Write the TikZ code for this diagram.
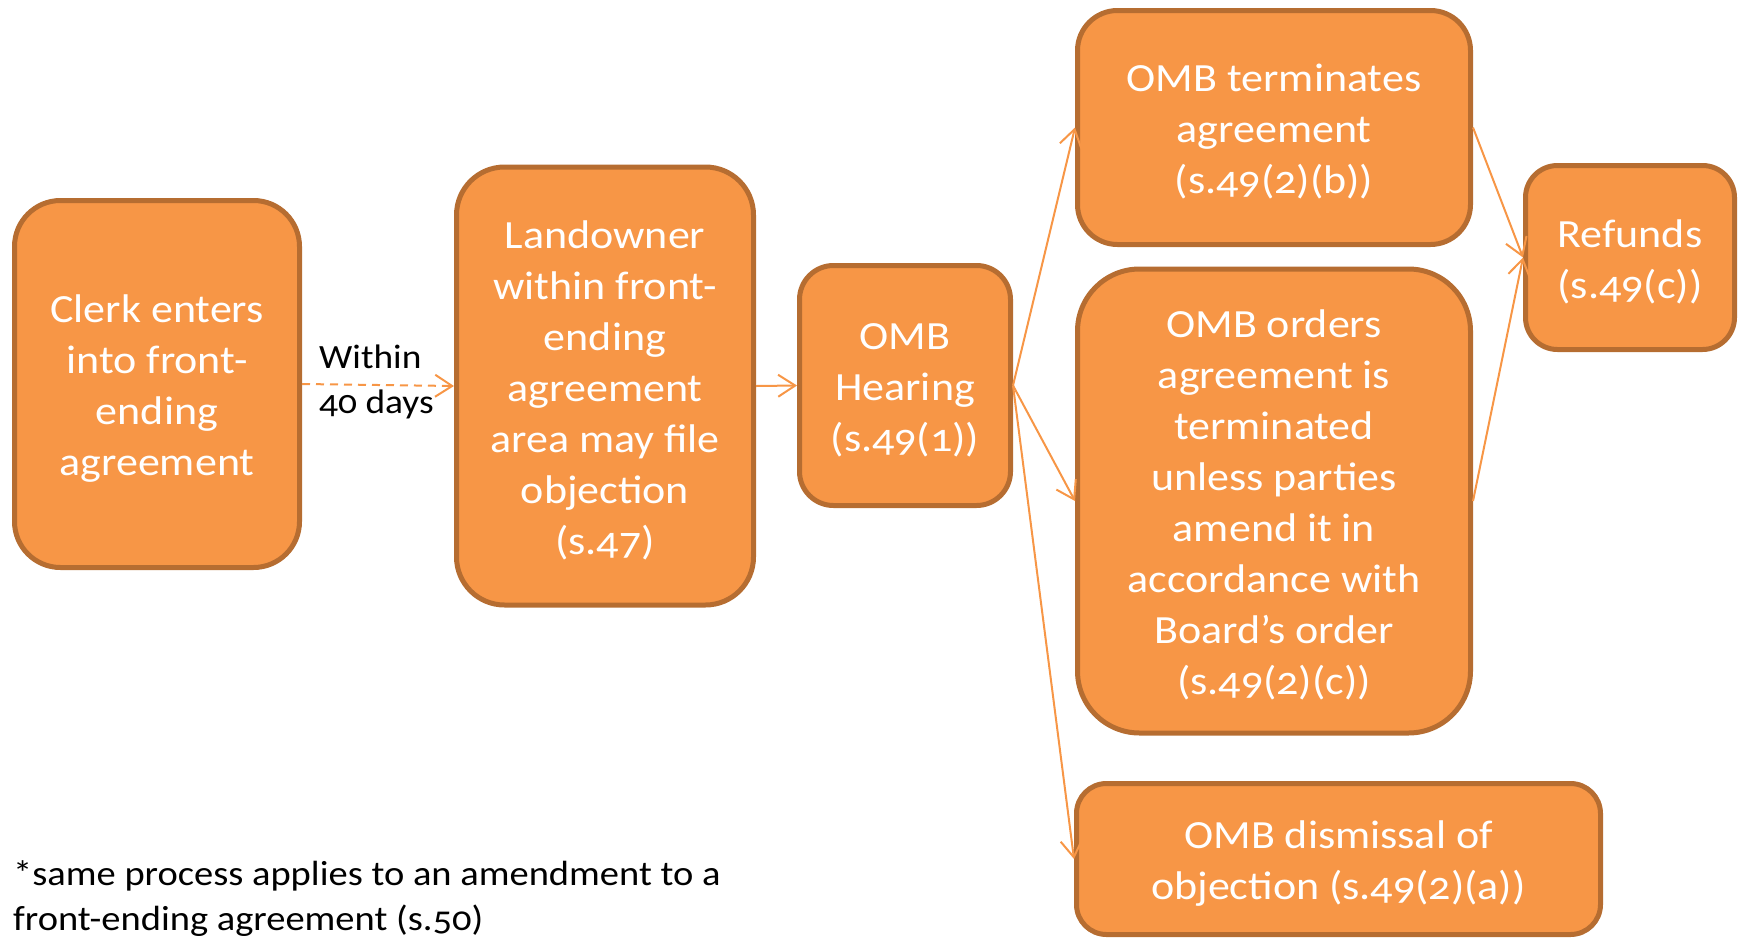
\documentclass[tikz,border=0pt]{standalone}
\usepackage{fontspec}
\setmainfont{Carlito}[Numbers=OldStyle, FakeStretch=1.1]
\usetikzlibrary{arrows.meta}
\definecolor{boxfill}{HTML}{F79646}
\definecolor{boxline}{HTML}{B66D31}
\newcommand\toprl{\rule{0pt}{39pt}}
\newcommand\botrl{\rule[-9pt]{0pt}{9pt}}
\begin{document}
\begin{tikzpicture}[x=1pt,y=-1pt,
  box/.style={draw=boxline, fill=boxfill, line width=5pt, text=white, align=center,
    font=\fontsize{40}{51}\selectfont, inner sep=0pt},
  conn/.style={draw=boxfill, line width=2pt, -{Straight Barb[length=17pt,width=22pt]}},
  note/.style={text=black, align=left, font=\fontsize{34}{45}\selectfont, inner sep=0pt}]
\useasboundingbox (0,0) rectangle (1738,940);
\node[box, minimum width=285pt, minimum height=367pt, rounded corners=46pt] (clerk) at (157,384)
  {\toprl Clerk enters\\into front-\\ending\\agreement\botrl};
\node[box, minimum width=297pt, minimum height=438pt, rounded corners=48pt] (land) at (605,386)
  {\toprl Landowner\\within front-\\ending\\agreement\\area may file\\objection\\(s.47)\botrl};
\node[box, minimum width=211pt, minimum height=240pt, rounded corners=34pt] (hear) at (905,385.5)
  {\toprl OMB\\Hearing\\(s.49(1))\botrl};
\node[box, minimum width=393pt, minimum height=234pt, rounded corners=40pt] (term) at (1274,127.5)
  {\toprl OMB terminates\\agreement\\(s.49(2)(b))\botrl};
\node[box, minimum width=393pt, minimum height=464pt, rounded corners=62pt] (order) at (1274,501)
  {\toprl OMB orders\\agreement is\\terminated\\unless parties\\amend it in\\accordance with\\Board’s order\\(s.49(2)(c))\botrl};
\node[box, minimum width=209pt, minimum height=184pt, rounded corners=32pt] (refund) at (1630,257.5)
  {\toprl Refunds\\(s.49(c))\botrl};
\node[box, minimum width=524pt, minimum height=151pt, rounded corners=30pt] (dismiss) at (1338.5,859)
  {\toprl OMB dismissal of\\objection (s.49(2)(a))\botrl};
\node[note, anchor=west] (within) at (319,382) {Within\\40 days};
\node[note, anchor=west, font=\fontsize{35}{45}\selectfont] (foot) at (13,899) {*same process applies to an amendment to a\\front-ending agreement (s.50)};
\draw[conn, dash pattern=on 8pt off 6pt] (clerk.east) -- (land.west);
\draw[conn] (land.east) -- (hear.west);
\draw[conn] (hear.east) -- (term.west);
\draw[conn] (hear.east) -- (order.west);
\draw[conn] (hear.east) -- (dismiss.west);
\draw[conn] (term.east) -- (refund.west);
\draw[conn] (order.east) -- (refund.west);
\end{tikzpicture}
\end{document}
